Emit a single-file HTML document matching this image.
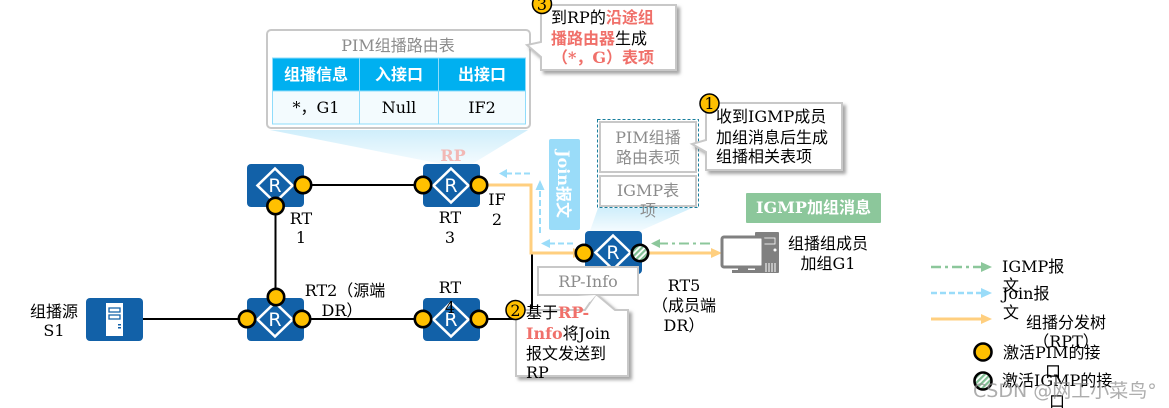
<!DOCTYPE html>
<html><head><meta charset="utf-8">
<style>
html,body{margin:0;padding:0;background:#fff;width:1169px;height:408px;overflow:hidden}
svg{display:block}
text{font-family:"DejaVu Serif","WenQuanYi Zen Hei","Noto Sans CJK SC",serif;font-size:16px;fill:#000}
.m{text-anchor:middle}
.g{fill:#8c8c8c}
.b{font-weight:bold}
.r{fill:#f0706a;font-weight:bold}
.w{fill:#fff;font-weight:bold}
</style></head><body>
<svg width="1169" height="408" viewBox="0 0 1169 408" xmlns="http://www.w3.org/2000/svg">
<defs>
<linearGradient id="fade" x1="0" y1="0" x2="0" y2="1"><stop offset="0" stop-color="#cfeefb"/><stop offset="1" stop-color="#f4fbfe"/></linearGradient>
<pattern id="hatch" width="4" height="4" patternUnits="userSpaceOnUse" patternTransform="rotate(-45)"><rect width="4" height="4" fill="#fff"/><rect width="4" height="2.2" fill="#7fbf92"/></pattern>
<filter id="sh" x="-10%" y="-10%" width="125%" height="125%"><feDropShadow dx="3" dy="3" stdDeviation="1.5" flood-color="#888" flood-opacity=".75"/></filter>
<g id="rt"><rect width="57" height="43" rx="4" fill="#1261a8"/><path d="M28 4.500 L45.500 21.500 L28 38.500 L10.500 21.500Z" fill="#1261a8" stroke="#fff" stroke-width="2.600"/><text x="28" y="28" class="m" style="font-family:'DejaVu Sans',sans-serif;font-size:19px;fill:#fff">R</text></g>
</defs>

<!-- pale projections -->
<path d="M270 130 H528 L472 164 H442Z" fill="url(#fade)"/>
<path d="M598 208 H692 L640 231 H590Z" fill="url(#fade)"/>

<!-- links -->
<g stroke="#000" stroke-width="2" fill="none">
<path d="M303 185 H423"/>
<path d="M275.500 206 V297"/>
<path d="M143 319 H247"/>
<path d="M302 319 H423"/>
<path d="M479 319 H532 V254"/>
</g>

<!-- forwarding tree -->
<g stroke="#ffcf7f" stroke-width="3" fill="none"><path d="M487 185 H531 V253 H574"/><path d="M648 253 H713"/></g>
<path d="M573 248 L584 253 L573 258Z M711 248 L722 253 L711 258Z" fill="#ffcf7f"/>

<!-- join arrows -->
<g stroke="#9adcf9" stroke-width="2" fill="none" stroke-dasharray="6 3"><path d="M530 173.500 H507"/><path d="M540 233 V188"/><path d="M573 243.500 H549"/></g>
<path d="M507 169 L499 173.500 L507 178Z M535.500 190 L540 180 L544.500 190Z M550 239 L541 243.500 L550 248Z" fill="#9adcf9"/>
<!-- igmp arrow -->
<g stroke="#8cc79b" stroke-width="2" fill="none" stroke-dasharray="10 4 3 4"><path d="M710 243.500 H660"/></g>
<path d="M660 239 L651 243.500 L660 248Z" fill="#8cc79b"/>

<!-- devices -->
<use href="#rt" x="247" y="164"/>
<use href="#rt" x="423" y="164"/>
<use href="#rt" x="247" y="298"/>
<use href="#rt" x="423" y="298"/>
<use href="#rt" x="585" y="231"/>
<rect x="86" y="298" width="57" height="43" rx="4" fill="#1261a8"/>
<rect x="106" y="303" width="17" height="33" fill="#fff"/>
<path d="M109 308 H120 V312 H109Z M109 315 H120 V319 H109Z" fill="#fff" stroke="#1261a8" stroke-width="1.300"/>
<rect x="118" y="324" width="3" height="1.500" fill="#1261a8"/><rect x="118" y="327" width="3" height="1.500" fill="#1261a8"/>

<!-- interfaces -->
<g fill="#ffc000" stroke="#000" stroke-width="2.600">
<circle cx="303" cy="185" r="8.200"/><circle cx="275.500" cy="206" r="8.200"/>
<circle cx="423" cy="185" r="8.200"/><circle cx="479" cy="185" r="8.200"/>
<circle cx="276" cy="297" r="8.200"/><circle cx="247" cy="319" r="8.200"/><circle cx="302" cy="319" r="8.200"/>
<circle cx="423" cy="319" r="8.200"/><circle cx="479" cy="319" r="8.200"/>
<circle cx="584" cy="253" r="8.200"/>
</g>
<circle cx="640" cy="253" r="8.200" fill="url(#hatch)" stroke="#000" stroke-width="2.600"/>

<!-- device labels -->
<text x="453" y="161" class="m b" style="fill:#f2b8b5">RP</text>
<text x="301" y="224" class="m">RT</text><text x="301" y="243" class="m">1</text>
<text x="450" y="223" class="m">RT</text><text x="450" y="243" class="m">3</text>
<text x="497" y="205" class="m">IF</text><text x="497" y="225" class="m">2</text>
<text x="345" y="296" class="m">RT2（源端</text><text x="342" y="316" class="m">DR）</text>
<text x="450" y="293" class="m">RT</text><text x="450" y="313" class="m">4</text>
<text x="54" y="317" class="m">组播源</text><text x="54" y="336" class="m">S1</text>
<text x="684" y="291" class="m">RT5</text><text x="684" y="311" class="m">（成员端</text><text x="684" y="331" class="m">DR）</text>
<text x="828" y="249" class="m">组播组成员</text><text x="828" y="269" class="m">加组G1</text>

<!-- Join label -->
<rect x="549" y="139" width="31" height="91" rx="2" fill="#9adcf9"/>
<text transform="translate(558 184) rotate(90)" class="m w" textLength="68" lengthAdjust="spacingAndGlyphs">Join报文</text>

<!-- IGMP label -->
<rect x="746" y="193" width="135" height="30" rx="1" fill="#8cc79b"/>
<text x="813.500" y="213" class="m w">IGMP加组消息</text>

<!-- PIM table callout -->
<rect x="267" y="30" width="263" height="98" rx="4" fill="#fff" stroke="#c8c8c8" stroke-width="2"/>
<text x="398" y="51" class="m g">PIM组播路由表</text>
<rect x="272.500" y="58" width="253" height="66" fill="#f3fbfe" stroke="#8fdcfb" stroke-width="1"/>
<rect x="272.500" y="58" width="253" height="33" fill="#00b0f0" stroke="#8fdcfb" stroke-width="1"/>
<path d="M359.500 58 V124 M438.500 58 V124" stroke="#8fdcfb" stroke-width="1"/>
<text x="316" y="80" class="m w">组播信息</text><text x="399" y="80" class="m w">入接口</text><text x="482" y="80" class="m w">出接口</text>
<text x="316" y="113" class="m">*，G1</text><text x="399" y="113" class="m">Null</text><text x="482" y="113" class="m">IF2</text>

<!-- callout 3 -->
<path d="M541 5 H676 V70 H541 V57 L527 45 L541 42Z" fill="#fff" stroke="#c8c8c8" stroke-width="2" filter="url(#sh)"/>
<text x="551" y="23">到RP的<tspan class="r">沿途组</tspan></text>
<text x="551" y="44"><tspan class="r">播路由器</tspan>生成</text>
<text x="603" y="63" class="m r">（*，G）表项</text>
<circle cx="542" cy="4" r="9.500" fill="#ffc000" stroke="#000" stroke-width="1.500"/>
<text x="542" y="10" class="m">3</text>

<!-- dashed group -->
<rect x="600" y="122" width="96" height="50" fill="#fff" stroke="#c8c8c8" stroke-width="2"/>
<rect x="600" y="176" width="96" height="30" fill="#fff" stroke="#c8c8c8" stroke-width="2"/>
<rect x="597.500" y="119.500" width="101" height="88" fill="none" stroke="#1a7f9e" stroke-width="1" stroke-dasharray="3 2"/>
<text x="648" y="143" class="m g">PIM组播</text><text x="648" y="163" class="m g">路由表项</text>
<text x="648" y="196" class="m g">IGMP表</text><text x="648" y="216" class="m g">项</text>

<!-- callout 1 -->
<path d="M706 103 H842 V170 H706 V152 L692 144 L706 140Z" fill="#fff" stroke="#c8c8c8" stroke-width="2" filter="url(#sh)"/>
<text x="716" y="122">收到IGMP成员</text><text x="716" y="143">加组消息后生成</text><text x="716" y="162">组播相关表项</text>
<circle cx="709.500" cy="103.500" r="9.500" fill="#ffc000" stroke="#000" stroke-width="1.500"/>
<text x="709.500" y="109" class="m">1</text>

<!-- PC -->
<rect x="755" y="232" width="24" height="41" rx="1" fill="#808080"/>
<rect x="760" y="238" width="15" height="6" fill="#808080" stroke="#fff" stroke-width=".8"/>
<circle cx="775" cy="250" r="1.500" fill="#fff"/>
<path d="M766 272 V263 M769 272 V263 M772 272 V263 M775 272 V263" stroke="#fff" stroke-width="1"/>
<rect x="722" y="237" width="41" height="30" rx="2" fill="#fff" stroke="#808080" stroke-width="3"/>
<rect x="738" y="267" width="10" height="4" fill="#808080"/>
<rect x="732" y="270" width="33" height="3" fill="#808080"/>

<!-- RP-Info & callout 2 -->
<path d="M516 310 H585 L596 294 L615 310 H628 V376 H516Z" fill="#fff" stroke="#c8c8c8" stroke-width="2" filter="url(#sh)"/>
<rect x="538" y="267" width="100" height="28" fill="#fff" stroke="#c8c8c8" stroke-width="2"/>
<text x="588" y="287" class="m g">RP-Info</text>
<path d="M578 296 L596 295 L590 302Z" fill="#fff"/>
<text x="526" y="318">基于<tspan class="r">RP-</tspan></text>
<text x="526" y="339"><tspan class="r">Info</tspan>将Join</text>
<text x="526" y="359">报文发送到</text>
<text x="526" y="378">RP</text>
<circle cx="515.500" cy="310" r="9.500" fill="#ffc000" stroke="#000" stroke-width="1.500"/>
<text x="515.500" y="316" class="m">2</text>

<!-- legend -->
<g fill="none" stroke-width="2.500">
<path d="M931 267 H982" stroke="#8cc79b" stroke-dasharray="10 4 3 4"/>
<path d="M931 293 H982" stroke="#9adcf9" stroke-dasharray="6 3"/>
<path d="M931 319 H982" stroke="#ffcf7f" stroke-width="3"/>
</g>
<path d="M981 262 L992 267 L981 272Z" fill="#8cc79b"/>
<path d="M981 288 L992 293 L981 298Z" fill="#9adcf9"/>
<path d="M981 314 L992 319 L981 324Z" fill="#ffcf7f"/>
<text x="1002" y="272">IGMP报</text><text x="1003" y="291">文</text>
<text x="1002" y="299">Join报</text><text x="1003" y="318">文</text>
<text x="1066" y="328" class="m">组播分发树</text><text x="1066" y="347" class="m">（RPT）</text>
<circle cx="983" cy="352" r="8.500" fill="#ffc000" stroke="#000" stroke-width="2.600"/>
<text x="1003" y="358">激活PIM的接</text><text x="1053" y="377" class="m">口</text>
<circle cx="983" cy="381" r="8.500" fill="url(#hatch)" stroke="#000" stroke-width="2.600"/>
<text x="1002" y="386">激活IGMP的接</text><text x="1057" y="407" class="m">口</text>

<!-- watermark -->
<text x="973" y="397" style="font-family:'DejaVu Sans','WenQuanYi Zen Hei',sans-serif;font-size:19px;fill:#8a8a8a;fill-opacity:.7">CSDN @网工小菜鸟°</text>
</svg>
</body></html>
